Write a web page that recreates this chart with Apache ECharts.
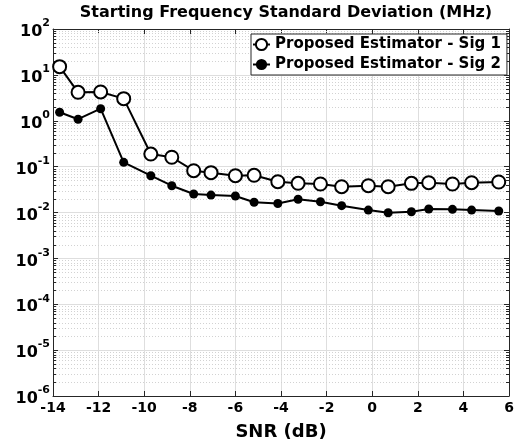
<!DOCTYPE html>
<html>
<head>
<meta charset="utf-8">
<script src="https://cdn.jsdelivr.net/npm/echarts@6/dist/echarts.min.js"></script>
<style>
  html, body { margin: 0; padding: 0; background: #ffffff; }
  #chart { width: 518px; height: 446px; }
</style>
</head>
<body>
<div id="chart"></div>
<script>
// SNR values (dB) at which each estimator was evaluated
const snr = [-13.71, -12.90, -11.91, -10.90, -9.71, -8.79, -7.83, -7.07, -6.00, -5.18,
             -4.14, -3.25, -2.27, -1.34, -0.17, 0.70, 1.72, 2.48, 3.52, 4.36, 5.55];

// Standard deviation of the starting frequency estimate (MHz)
const sig1 = [15.1, 4.17, 4.24, 3.03, 0.188, 0.160, 0.0814, 0.0738, 0.0634, 0.0647,
              0.0469, 0.0433, 0.0418, 0.0365, 0.0384, 0.0365, 0.0432, 0.0446, 0.0418, 0.0446, 0.0462];
const sig2 = [1.53, 1.08, 1.83, 0.124, 0.0634, 0.0384, 0.0253, 0.0240, 0.0229, 0.0167,
              0.0157, 0.0194, 0.0172, 0.0141, 0.0113, 0.0099, 0.0104, 0.0119, 0.0117, 0.0113, 0.0108];

const seriesNames = ['Proposed Estimator - Sig 1', 'Proposed Estimator - Sig 2'];
const titleText = 'Starting Frequency Standard Deviation (MHz)';
const xName = 'SNR (dB)';

// Axis ranges
const xMin = -14, xMax = 6, xStep = 2;
const yMinExp = -6, yMaxExp = 2;

const FONT = '"DejaVu Sans", Verdana, sans-serif';
const AXIS_COLOR = '#262626';
const GRID_COLOR = '#dedede';

// Minor log positions 2..9 x 10^k inside each decade (dotted grid + small ticks)
const minorValues = [];
for (let e = yMinExp; e < yMaxExp; e++) {
  for (let m = 2; m <= 9; m++) minorValues.push([m * Math.pow(10, e)]);
}

const yLabelFormatter = v => {
  const e = Math.round(Math.log10(v));
  return '{b|10}{s|' + e + '}';
};
const yLabelRich = {
  b: { fontFamily: FONT, fontWeight: 'bold', fontSize: 16, color: '#000', verticalAlign: 'bottom', lineHeight: 22 },
  s: { fontFamily: FONT, fontWeight: 'bold', fontSize: 11, color: '#000', verticalAlign: 'top', lineHeight: 22 }
};

// Draws one minor level: a dotted grid line across the plot and inward ticks on both sides
function renderMinor(params, api) {
  const cs = params.coordSys;
  const y = Math.round(api.coord([xMin, api.value(0)])[1]) + 0.5;
  const x0 = cs.x, x1 = cs.x + cs.width;
  const tick = 3;
  return {
    type: 'group',
    children: [
      { type: 'line', shape: { x1: x0, y1: y, x2: x1, y2: y },
        style: { stroke: '#d2d2d2', lineWidth: 1, lineDash: [1, 2] }, silent: true },
      { type: 'line', shape: { x1: x0, y1: y, x2: x0 + tick, y2: y },
        style: { stroke: AXIS_COLOR, lineWidth: 1 }, silent: true },
      { type: 'line', shape: { x1: x1 - tick, y1: y, x2: x1, y2: y },
        style: { stroke: AXIS_COLOR, lineWidth: 1 }, silent: true }
    ]
  };
}

const chart = echarts.init(document.getElementById('chart'), null, { renderer: 'canvas' });

chart.setOption({
  animation: false,
  backgroundColor: '#ffffff',
  title: {
    text: titleText,
    left: 281, top: 0, textAlign: 'center',
    textStyle: { fontFamily: FONT, fontWeight: 'bold', fontSize: 16, color: '#000' }
  },
  legend: {
    data: seriesNames,
    orient: 'vertical',
    left: 251, top: 34,
    padding: [3, 6, 3, 1],
    itemWidth: 17, itemHeight: 14, itemGap: 5,
    backgroundColor: '#ffffff',
    borderColor: AXIS_COLOR, borderWidth: 1, borderRadius: 0,
    textStyle: { fontFamily: FONT, fontWeight: 'bold', fontSize: 15, color: '#000' }
  },
  grid: { left: 53, right: 9, top: 29, bottom: 50, containLabel: false },
  xAxis: [{
    type: 'value', min: xMin, max: xMax, interval: xStep,
    name: xName, nameLocation: 'middle', nameGap: 27,
    nameTextStyle: { fontFamily: FONT, fontWeight: 'bold', fontSize: 18, color: '#000' },
    axisLine: { show: true, onZero: false, lineStyle: { color: AXIS_COLOR, width: 1 } },
    axisTick: { show: true, inside: true, length: 5, lineStyle: { color: AXIS_COLOR } },
    axisLabel: { fontFamily: FONT, fontWeight: 'bold', fontSize: 14, color: '#000', margin: 5 },
    splitLine: { show: true, lineStyle: { color: GRID_COLOR, width: 1 } }
  }, {
    type: 'value', position: 'top', min: xMin, max: xMax, interval: xStep,
    axisLine: { show: true, onZero: false, lineStyle: { color: AXIS_COLOR, width: 1 } },
    axisTick: { show: true, inside: true, length: 5, lineStyle: { color: AXIS_COLOR } },
    axisLabel: { show: false }, splitLine: { show: false }
  }],
  yAxis: [{
    type: 'log', logBase: 10,
    min: Math.pow(10, yMinExp), max: Math.pow(10, yMaxExp), splitNumber: 8,
    axisLine: { show: true, onZero: false, lineStyle: { color: AXIS_COLOR, width: 1 } },
    axisTick: { show: true, inside: true, length: 5, lineStyle: { color: AXIS_COLOR } },
    axisLabel: { formatter: yLabelFormatter, rich: yLabelRich, margin: 3 },
    splitLine: { show: true, lineStyle: { color: GRID_COLOR, width: 1 } }
  }, {
    type: 'log', logBase: 10, position: 'right',
    min: Math.pow(10, yMinExp), max: Math.pow(10, yMaxExp), splitNumber: 8,
    axisLine: { show: true, onZero: false, lineStyle: { color: AXIS_COLOR, width: 1 } },
    axisTick: { show: true, inside: true, length: 5, lineStyle: { color: AXIS_COLOR } },
    axisLabel: { show: false }, splitLine: { show: false }
  }],
  series: [{
    type: 'custom', name: 'minor-grid', silent: true, z: 1,
    renderItem: renderMinor,
    encode: { y: 0 },
    data: minorValues
  }, {
    type: 'line', name: seriesNames[0],
    data: snr.map((x, i) => [x, sig1[i]]),
    symbol: 'emptyCircle', symbolSize: 13, z: 3,
    lineStyle: { color: '#000', width: 2 },
    itemStyle: { color: '#000', borderWidth: 2 }
  }, {
    type: 'line', name: seriesNames[1],
    data: snr.map((x, i) => [x, sig2[i]]),
    symbol: 'circle', symbolSize: 9, z: 3,
    lineStyle: { color: '#000', width: 2 },
    itemStyle: { color: '#000' }
  }]
});
</script>
</body>
</html>
